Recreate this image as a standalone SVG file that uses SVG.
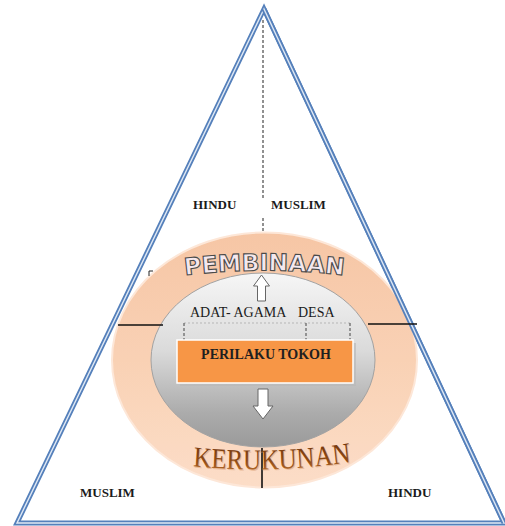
<svg xmlns="http://www.w3.org/2000/svg" width="505" height="526" viewBox="0 0 505 526">
  <style>
    .tri { fill: none; stroke: #5580bb; stroke-width: 5; stroke-linejoin: miter; }
    .tri-in { fill: none; stroke: #dfe8f4; stroke-width: 1.4; }
    .lbl { font-family: "Liberation Serif", "Times New Roman", serif; font-weight: bold; font-size: 13px; fill: #1b1b1b; }
    .sub { font-family: "Liberation Serif", "Times New Roman", serif; font-size: 14px; fill: #1b1b1b; }
    .dash { stroke: #222; stroke-width: 1; stroke-dasharray: 3 2; fill: none; }
    .bar { stroke: #111; stroke-width: 1.6; fill: none; }
    .arrow { fill: #ffffff; stroke: #666; stroke-width: 1; }
  </style>
  <defs>
    <linearGradient id="peach" x1="0" y1="0" x2="0" y2="1">
      <stop offset="0" stop-color="#f6c4a1"/>
      <stop offset="0.5" stop-color="#f9cfb1"/>
      <stop offset="1" stop-color="#fcdcc5"/>
    </linearGradient>
    <linearGradient id="gray" x1="0" y1="0" x2="0" y2="1">
      <stop offset="0" stop-color="#f6f6f6"/>
      <stop offset="0.45" stop-color="#dadada"/>
      <stop offset="0.8" stop-color="#acacac"/>
      <stop offset="1" stop-color="#9a9a9a"/>
    </linearGradient>
    <linearGradient id="keru" x1="0" y1="0" x2="0" y2="1">
      <stop offset="0" stop-color="#6a3008"/>
      <stop offset="0.6" stop-color="#8e4a14"/>
      <stop offset="1" stop-color="#c27633"/>
    </linearGradient>
    <path id="pembPath" d="M 180 276 A 660 660 0 0 1 349 276"/>
    <path id="keruPath" d="M 190 466 A 700 700 0 0 0 354 462"/>
  </defs>

  <g id="triangle">
    <polygon class="tri" points="264,9 17,523 504,523"/>
    <polygon class="tri-in" points="264,9 17,523 504,523"/>
  </g>

  <g id="outer-ring">
    <ellipse cx="264.5" cy="360" rx="152.5" ry="127.5" fill="url(#peach)" stroke="#fde6d6" stroke-width="2" opacity="0.95"/>
  </g>

  <g id="triangle-right-edge">
    <line class="tri" x1="264" y1="9" x2="504" y2="523"/>
    <line class="tri-in" x1="264" y1="9" x2="504" y2="523"/>
  </g>

  <g id="inner-circle">
    <ellipse cx="263" cy="360" rx="112" ry="87" fill="url(#gray)" stroke="#a2a2a2" stroke-width="1"/>
  </g>

  <g id="connectors">
    <line class="dash" x1="263" y1="20" x2="263" y2="198"/>
    <line class="dash" x1="263" y1="218" x2="263" y2="233"/>
    <line class="bar" x1="118" y1="325" x2="163" y2="325"/>
    <line class="bar" x1="368" y1="324" x2="417" y2="324"/>
    <line class="bar" x1="262" y1="448" x2="262" y2="488"/>
    <path d="M 153 271 H 149 V 276" stroke="#222" stroke-width="1" fill="none"/>
    <line x1="184" y1="323" x2="350" y2="323" stroke="#b5b5b5" stroke-width="1" stroke-dasharray="2 2"/>
    <line x1="184" y1="323" x2="184" y2="340" stroke="#444" stroke-width="1" stroke-dasharray="3 2"/>
    <line x1="306" y1="323" x2="306" y2="340" stroke="#444" stroke-width="1" stroke-dasharray="3 2"/>
    <line x1="350" y1="323" x2="350" y2="340" stroke="#444" stroke-width="1" stroke-dasharray="3 2"/>
    <polygon class="arrow" points="261.5,275 269.5,286 265.5,286 265.5,301 257.5,301 257.5,286 253.5,286"/>
    <polygon class="arrow" points="258,389 268,389 268,406 273,406 263,419 253,406 258,406"/>
  </g>

  <g id="label-hindu-top"><text class="lbl" x="193" y="209">HINDU</text></g>
  <g id="label-muslim-top"><text class="lbl" x="271" y="209">MUSLIM</text></g>
  <g id="label-muslim-bottom"><text class="lbl" x="80" y="497">MUSLIM</text></g>
  <g id="label-hindu-bottom"><text class="lbl" x="388" y="497">HINDU</text></g>

  <g id="pembinaan">
    <text font-family="DejaVu Sans, Verdana, sans-serif" font-weight="bold" font-size="23.5" fill="#f4e8ee" stroke="#4a4a4a" stroke-width="1.1" text-anchor="middle"><textPath href="#pembPath" startOffset="50%">PEMBINAAN</textPath></text>
  </g>

  <g id="adat-agama-desa">
    <text class="sub" x="190" y="317">ADAT- AGAMA</text>
    <text class="sub" x="298" y="317">DESA</text>
  </g>

  <g id="perilaku-tokoh">
    <rect x="180" y="343" width="176" height="43" fill="#b9b9b9" opacity="0.7"/>
    <rect x="177" y="340" width="176" height="43" fill="#f79646" stroke="#ffffff" stroke-width="1.5"/>
    <text x="266" y="359" font-family="Liberation Serif, Times New Roman, serif" font-weight="bold" font-size="14" fill="#1f1f1f" text-anchor="middle">PERILAKU TOKOH</text>
  </g>

  <g id="kerukunan">
    <g transform="matrix(1 0 0 1.15 0 -70)">
      <text font-family="Liberation Serif, Times New Roman, serif" font-size="25" fill="#e2ad86" opacity="0.7" text-anchor="middle" transform="translate(1,1)"><textPath href="#keruPath" startOffset="50%">KERUKUNAN</textPath></text>
      <text font-family="Liberation Serif, Times New Roman, serif" font-size="25" fill="url(#keru)" text-anchor="middle"><textPath href="#keruPath" startOffset="50%">KERUKUNAN</textPath></text>
    </g>
  </g>
</svg>
